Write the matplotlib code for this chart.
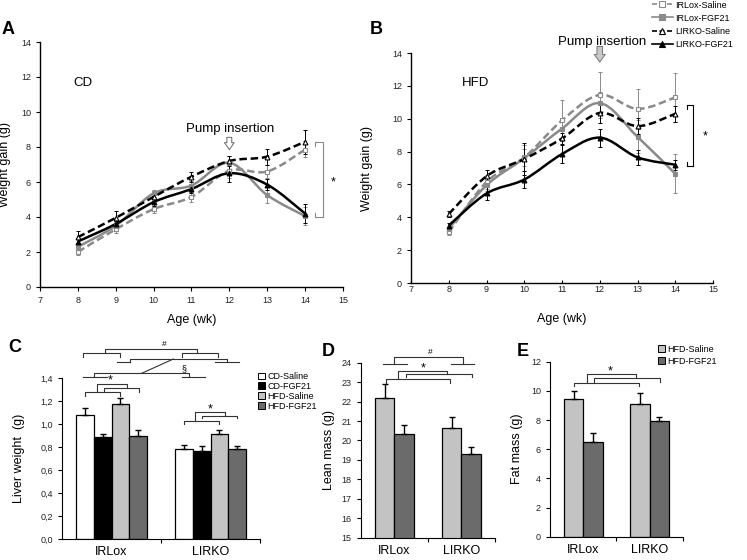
import numpy as np
import matplotlib.pyplot as plt
from matplotlib.path import Path
from matplotlib.patches import PathPatch, Patch
from matplotlib.lines import Line2D

plt.rcParams['font.family'] = ['Liberation Sans', 'DejaVu Sans']

# ---- data: weight gain curves (A = chow diet, B = high fat diet)
weeks = [8, 9, 10, 11, 12, 13, 14]
series_labels = ["IRLox-Saline", "IRLox-FGF21", "LIRKO-Saline", "LIRKO-FGF21"]

cd_irlox_saline = [2.0, 3.3, 4.45, 5.15, 6.65, 6.6, 7.85]
cd_irlox_fgf21 = [2.3, 3.5, 5.35, 5.8, 7.1, 5.25, 4.05]
cd_lirko_saline = [2.85, 3.95, 5.15, 6.3, 7.2, 7.45, 8.3]
cd_lirko_fgf21 = [2.6, 3.6, 4.85, 5.6, 6.5, 5.85, 4.2]
cd_irlox_saline_err = [0.15, 0.2, 0.2, 0.3, 0.4, 0.35, 0.4]
cd_irlox_fgf21_err = [0.2, 0.2, 0.2, 0.25, 0.4, 0.45, 0.5]
cd_lirko_saline_err = [0.35, 0.4, 0.25, 0.3, 0.3, 0.45, 0.7]
cd_lirko_fgf21_err = [0.2, 0.2, 0.2, 0.2, 0.5, 0.3, 0.55]

hfd_irlox_saline = [3.1, 6.15, 7.65, 9.9, 11.45, 10.6, 11.3]
hfd_irlox_fgf21 = [3.3, 5.95, 7.6, 9.4, 10.95, 8.9, 6.65]
hfd_lirko_saline = [4.2, 6.5, 7.55, 8.8, 10.35, 9.55, 10.3]
hfd_lirko_fgf21 = [3.5, 5.45, 6.3, 7.85, 8.85, 7.65, 7.2]
hfd_irlox_saline_err = [0.2, 0.4, 0.5, 1.25, 1.4, 1.2, 1.5]
hfd_irlox_fgf21_err = [0.2, 0.35, 0.8, 0.6, 0.7, 1.0, 1.2]
hfd_lirko_saline_err = [0.2, 0.4, 1.0, 0.35, 0.6, 0.5, 0.5]
hfd_lirko_fgf21_err = [0.15, 0.4, 0.5, 0.55, 0.55, 0.47, 0.3]

# ---- data: bar panels
groups = ["IRLox", "LIRKO"]
liver_labels = ["CD-Saline", "CD-FGF21", "HFD-Saline", "HFD-FGF21"]
liver_cd_saline = [1.075, 0.785]
liver_cd_fgf21 = [0.885, 0.765]
liver_hfd_saline = [1.175, 0.915]
liver_hfd_fgf21 = [0.90, 0.78]
liver_cd_saline_err = [0.065, 0.035]
liver_cd_fgf21_err = [0.03, 0.04]
liver_hfd_saline_err = [0.05, 0.035]
liver_hfd_fgf21_err = [0.045, 0.03]
liver_ticklabels = ["0,0", "0,2", "0,4", "0,6", "0,8", "1,0", "1,2", "1,4"]

hfd_labels = ["HFD-Saline", "HFD-FGF21"]
lean_saline = [22.17, 20.66]
lean_fgf21 = [20.31, 19.29]
lean_saline_err = [0.72, 0.55]
lean_fgf21_err = [0.47, 0.4]
fat_saline = [9.42, 9.1]
fat_fgf21 = [6.51, 7.93]
fat_saline_err = [0.6, 0.77]
fat_fgf21_err = [0.58, 0.3]

GRAY = "#8a8a8a"
LIGHT = "#c3c3c3"
DARK = "#6b6b6b"
INK = "#222222"


def smooth_path(xs, ys):
    # Excel-like smoothed line (cubic bezier through the points)
    pts = np.column_stack([xs, ys]).astype(float)
    n = len(pts)
    verts = [pts[0]]
    codes = [Path.MOVETO]
    for i in range(n - 1):
        p0 = pts[max(i - 1, 0)]
        p1 = pts[i]
        p2 = pts[i + 1]
        p3 = pts[min(i + 2, n - 1)]
        verts += [p1 + (p2 - p0) / 6, p2 - (p3 - p1) / 6, p2]
        codes += [Path.CURVE4] * 3
    return Path(verts, codes)


styles = [
    dict(color=GRAY, ls=(0, (3, 1.5)), marker="s", mfc="white"),
    dict(color=GRAY, ls="-", marker="s", mfc=GRAY),
    dict(color="black", ls=(0, (3, 1.5)), marker="^", mfc="white"),
    dict(color="black", ls="-", marker="^", mfc="black"),
]


def line_panel(ax, series, errs):
    for ys, err, st in zip(series, errs, styles):
        ax.errorbar(weeks, ys, yerr=err, fmt="none", ecolor=st["color"],
                    elinewidth=0.7, capsize=1.5, capthick=0.7, zorder=2)
        ax.add_patch(PathPatch(smooth_path(weeks, ys), fill=False,
                               edgecolor=st["color"], lw=1.8, ls=st["ls"], zorder=3))
        ax.plot(weeks, ys, ls="none", marker=st["marker"], ms=3.5, mfc=st["mfc"],
                mec=st["color"], mew=0.8, zorder=4)
    ax.set_xlim(7, 15)
    ax.set_ylim(0, 14)
    ax.set_xticks(range(7, 16))
    ax.set_yticks(range(0, 15, 2))
    for s in ["top", "right"]:
        ax.spines[s].set_visible(False)
    for s in ["left", "bottom"]:
        ax.spines[s].set_linewidth(1.0)
    ax.tick_params(labelsize=6.5, length=3, width=0.8, labelcolor=INK)
    ax.set_xlabel("Age (wk)", fontsize=9)
    ax.set_ylabel("Weight gain (g)", fontsize=9)


def bracket(ax, x1, x2, y, d1, d2, color="#333333"):
    ax.plot([x1, x1, x2, x2], [d1, y, y, d2], color=color, lw=0.8, clip_on=False)


def stub(ax, x1, x2, y, color="#333333"):
    ax.plot([x1, x2], [y, y], color=color, lw=0.8, clip_on=False)


def bar_axes(ax, ylim, yticks):
    ax.set_xlim(-0.5, 1.5)
    ax.set_ylim(*ylim)
    ax.set_yticks(yticks)
    ax.set_xticks([0, 1])
    ax.set_xticklabels(groups, fontsize=9)
    ax.set_xticks([0.5, 1.5], minor=True)
    ax.tick_params(axis="x", which="major", length=0, pad=5)
    ax.tick_params(axis="x", which="minor", length=3, width=0.8)
    ax.tick_params(axis="y", labelsize=6.5, length=3, width=0.8, labelcolor=INK)
    for s in ["top", "right"]:
        ax.spines[s].set_visible(False)


fig = plt.figure(figsize=(7.47, 5.6), dpi=100)

# ---------------- A
axA = fig.add_axes([0.0535, 0.4875, 0.4056, 0.4375])
line_panel(axA, [cd_irlox_saline, cd_irlox_fgf21, cd_lirko_saline, cd_lirko_fgf21],
           [cd_irlox_saline_err, cd_irlox_fgf21_err, cd_lirko_saline_err, cd_lirko_fgf21_err])
axA.tick_params(direction="out")
axA.yaxis.set_label_coords(-0.096, 0.5)
axA.xaxis.set_label_coords(0.5, -0.11)
axA.text(7.87, 11.66, "CD", fontsize=9.5, va="center")
axA.text(12.02, 9.03, "Pump insertion", fontsize=9.5, ha="center", va="center")
axA.annotate("", xy=(12, 7.85), xytext=(12, 8.55),
             arrowprops=dict(arrowstyle="simple,head_width=0.7,head_length=0.5,tail_width=0.35",
                             fc="white", ec="#666666", lw=0.7, shrinkA=0, shrinkB=0))
bracket(axA, 14.26, 14.47, 8.27, 8.27, 4.02, color=GRAY)
stub(axA, 14.26, 14.47, 4.02, color=GRAY)
axA.plot([14.26, 14.26], [8.27, 8.05], color=GRAY, lw=0.8, clip_on=False)
axA.plot([14.26, 14.26], [4.02, 4.22], color=GRAY, lw=0.8, clip_on=False)
axA.text(14.73, 6.0, "*", fontsize=9, ha="center", va="center")

# ---------------- B
axB = fig.add_axes([0.5502, 0.4946, 0.4043, 0.4107])
line_panel(axB, [hfd_irlox_saline, hfd_irlox_fgf21, hfd_lirko_saline, hfd_lirko_fgf21],
           [hfd_irlox_saline_err, hfd_irlox_fgf21_err, hfd_lirko_saline_err, hfd_lirko_fgf21_err])
axB.tick_params(axis="x", direction="in", length=2, pad=1.5)
axB.yaxis.set_label_coords(-0.126, 0.5)
axB.xaxis.set_label_coords(0.5, -0.13)
axB.text(8.35, 12.17, "HFD", fontsize=9.5, va="center")
axB.text(12.06, 14.67, "Pump insertion", fontsize=9.5, ha="center", va="center")
axB.annotate("", xy=(12, 13.45), xytext=(12, 14.4),
             arrowprops=dict(arrowstyle="simple,head_width=0.8,head_length=0.55,tail_width=0.4",
                             fc="#c8c8c8", ec="#777777", lw=0.7, shrinkA=0, shrinkB=0),
             annotation_clip=False)
bracket(axB, 14.31, 14.47, 10.83, 10.6, 7.12, color="black")
stub(axB, 14.31, 14.47, 7.12, color="black")
axB.plot([14.31, 14.31], [7.12, 7.35], color="black", lw=0.8, clip_on=False)
axB.text(14.79, 8.9, "*", fontsize=9, ha="center", va="center")

handles = [Line2D([], [], color=st["color"], ls=st["ls"], lw=1.2, marker=st["marker"],
                  ms=4.5, mfc=st["mfc"], mec=st["color"], mew=0.8) for st in styles]
fig.legend(handles, series_labels, loc="upper left", bbox_to_anchor=(652 / 747, 0.999),
           frameon=False, fontsize=6.5, handlelength=2.3, handletextpad=0.3,
           labelspacing=0.45, borderpad=0, borderaxespad=0)

# ---------------- C
axC = fig.add_axes([0.0830, 0.0375, 0.2651, 0.2875])
x = np.arange(len(groups))
w = 0.18
liver_vals = [liver_cd_saline, liver_cd_fgf21, liver_hfd_saline, liver_hfd_fgf21]
liver_errs = [liver_cd_saline_err, liver_cd_fgf21_err, liver_hfd_saline_err, liver_hfd_fgf21_err]
liver_colors = ["white", "black", LIGHT, DARK]
for i, (v, e, c) in enumerate(zip(liver_vals, liver_errs, liver_colors)):
    axC.bar(x + (i - 1.5) * w, v, w, color=c, edgecolor="black", lw=0.9,
            yerr=[[0, 0], e], error_kw=dict(ecolor="black", elinewidth=1.0, capsize=2.5, capthick=1.0))
bar_axes(axC, (0, 1.4), np.arange(0, 1.41, 0.2))
axC.set_yticklabels(liver_ticklabels)
axC.set_ylabel("Liver weight  (g)", fontsize=9)
axC.yaxis.set_label_coords(-0.187, 0.5)
axC.legend([Patch(fc=c, ec="black", lw=0.7) for c in liver_colors], liver_labels,
           loc="upper left", bbox_to_anchor=(258 / 747, 1 - 372 / 560),
           bbox_transform=fig.transFigure, frameon=False, fontsize=6.5,
           handlelength=0.75, handleheight=0.75, handletextpad=0.25,
           labelspacing=0.1, borderpad=0, borderaxespad=0)
# significance brackets
bracket(axC, -0.066, 0.860, 1.649, 1.620, 1.620)
bracket(axC, -0.285, 0.086, 1.620, 1.586, 1.586)
bracket(axC, 0.709, 1.079, 1.620, 1.586, 1.586)
axC.text(0.532, 1.687, "#", fontsize=6, ha="center", va="center")
bracket(axC, 0.187, 1.163, 1.565, 1.536, 1.536)
stub(axC, 0.052, 0.187, 1.536)
stub(axC, 1.045, 1.291, 1.536)
bracket(axC, -0.173, 0.786, 1.441, 1.412, 1.412)
stub(axC, -0.291, -0.049, 1.412)
stub(axC, 0.709, 0.944, 1.412)
axC.plot([0.305, 0.624], [1.441, 1.565], color="#333333", lw=0.8, clip_on=False)
axC.text(0.734, 1.484, "§", fontsize=6.5, ha="center", va="center")
bracket(axC, -0.150, 0.153, 1.348, 1.281, 1.310)
bracket(axC, -0.268, 0.086, 1.281, 1.246, 1.246)
bracket(axC, -0.076, 0.281, 1.310, 1.281, 1.281)
axC.text(-0.015, 1.375, "*", fontsize=9, ha="center", va="center")
bracket(axC, 0.843, 1.146, 1.107, 1.029, 1.070)
bracket(axC, 0.736, 1.086, 1.029, 0.997, 0.997)
bracket(axC, 0.918, 1.271, 1.070, 1.049, 1.049)
axC.text(1.0, 1.13, "*", fontsize=9, ha="center", va="center")

# ---------------- D
axD = fig.add_axes([0.4829, 0.0398, 0.1794, 0.3125])
w2 = 0.29
axD.bar(x - w2 / 2, lean_saline, w2, bottom=0, color=LIGHT, edgecolor="black", lw=0.9,
        yerr=[[0, 0], lean_saline_err], error_kw=dict(ecolor="black", elinewidth=1.0, capsize=2.5, capthick=1.0))
axD.bar(x + w2 / 2, lean_fgf21, w2, color=DARK, edgecolor="black", lw=0.9,
        yerr=[[0, 0], lean_fgf21_err], error_kw=dict(ecolor="black", elinewidth=1.0, capsize=2.5, capthick=1.0))
bar_axes(axD, (15, 24), range(15, 25))
axD.set_ylabel("Lean mass (g)", fontsize=9)
axD.yaxis.set_label_coords(-0.192, 0.5)
bracket(axD, -0.003, 1.022, 24.31, 23.95, 23.95)
stub(axD, -0.162, 0.196, 23.95)
stub(axD, 0.848, 1.196, 23.95)
axD.text(0.534, 24.51, "#", fontsize=6, ha="center", va="center")
bracket(axD, 0.061, 0.784, 23.59, 23.14, 23.42)
bracket(axD, -0.122, 0.833, 23.14, 22.97, 22.97)
bracket(axD, 0.176, 1.157, 23.42, 23.25, 23.25)
axD.text(0.425, 23.72, "*", fontsize=9, ha="center", va="center")

# ---------------- E
axE = fig.add_axes([0.7363, 0.0416, 0.1780, 0.3125])
axE.bar(x - w2 / 2, fat_saline, w2, color=LIGHT, edgecolor="black", lw=0.9,
        yerr=[[0, 0], fat_saline_err], error_kw=dict(ecolor="black", elinewidth=1.0, capsize=2.5, capthick=1.0))
axE.bar(x + w2 / 2, fat_fgf21, w2, color=DARK, edgecolor="black", lw=0.9,
        yerr=[[0, 0], fat_fgf21_err], error_kw=dict(ecolor="black", elinewidth=1.0, capsize=2.5, capthick=1.0))
bar_axes(axE, (0, 12), range(0, 13, 2))
axE.set_ylabel("Fat mass (g)", fontsize=9)
axE.yaxis.set_label_coords(-0.2, 0.5)
axE.legend([Patch(fc=c, ec="black", lw=0.7) for c in [LIGHT, DARK]], hfd_labels,
           loc="upper left", bbox_to_anchor=(658 / 747, 1 - 345 / 560),
           bbox_transform=fig.transFigure, frameon=False, fontsize=6.5,
           handlelength=0.8, handleheight=0.8, handletextpad=0.25,
           labelspacing=0.3, borderpad=0, borderaxespad=0)
bracket(axE, 0.051, 0.788, 11.15, 10.56, 10.86)
bracket(axE, -0.134, 0.838, 10.56, 10.33, 10.33)
bracket(axE, 0.162, 1.154, 10.86, 10.61, 10.61)
axE.text(0.412, 11.33, "*", fontsize=9, ha="center", va="center")

# panel letters
for lbl, px, py in [("A", 8, 30), ("B", 376, 30), ("C", 15, 347), ("D", 328, 352), ("E", 523, 352)]:
    fig.text(px / 747, 1 - py / 560, lbl, fontsize=13, fontweight="bold", ha="center", va="center")

fig.savefig("out.png", dpi=100)
